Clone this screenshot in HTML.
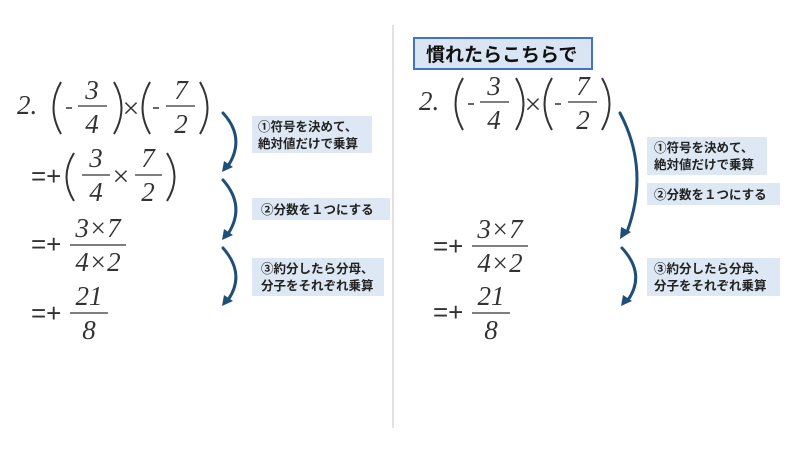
<!DOCTYPE html>
<html><head><meta charset="utf-8"><style>
body{margin:0;background:#fff;width:800px;height:450px;overflow:hidden}
svg{display:block}
.m{font-family:"Liberation Serif",serif;font-style:italic;font-size:27px;fill:#333}
.u{font-family:"Liberation Serif",serif;font-size:30px;fill:#333}
.e{font-family:"Liberation Sans","Noto Sans CJK JP",sans-serif;font-size:26px;fill:#333}
.j{font-family:"Liberation Sans","Noto Sans CJK JP",sans-serif;font-size:12.5px;font-weight:bold;fill:#222}
.p{fill:none;stroke:#333;stroke-width:2}
.l{stroke:#333;stroke-width:1.3}
.a{fill:none;stroke:#1f4e79;stroke-width:3;stroke-linecap:round}
.h{fill:#1f4e79}
</style></head><body>
<svg width="800" height="450" viewBox="0 0 800 450">
<line x1="393" y1="25" x2="393" y2="428" stroke="#d8d8d8" stroke-width="1.5"/>
<g>
<text class="m" x="17" y="114">2.</text>
<path class="p" d="M61 82 Q46 108 61 134"/>
<line x1="66" y1="108" x2="72" y2="108" stroke="#333" stroke-width="1.5"/>
<text class="m" x="92" y="99" text-anchor="middle">3</text><line class="l" x1="78" y1="106" x2="107" y2="106"/><text class="m" x="92" y="133" text-anchor="middle">4</text>
<path class="p" d="M114 82 Q129 108 114 134"/>
<text class="u" x="131" y="118" text-anchor="middle">×</text>
<path class="p" d="M150 82 Q135 108 150 134"/>
<line x1="153" y1="108" x2="159" y2="108" stroke="#333" stroke-width="1.5"/>
<text class="m" x="181" y="99" text-anchor="middle">7</text><line class="l" x1="166" y1="106" x2="195" y2="106"/><text class="m" x="181" y="133" text-anchor="middle">2</text>
<path class="p" d="M200 82 Q215 108 200 134"/>

<text class="e" x="31" y="185">=+</text>
<path class="p" d="M74 153 Q59 177 74 201"/>
<text class="m" x="96" y="167" text-anchor="middle">3</text><line class="l" x1="82" y1="175" x2="110" y2="175"/><text class="m" x="96" y="201" text-anchor="middle">4</text>
<text class="u" x="121" y="186" text-anchor="middle">×</text>
<text class="m" x="148" y="167" text-anchor="middle">7</text><line class="l" x1="135" y1="175" x2="162" y2="175"/><text class="m" x="148" y="201" text-anchor="middle">2</text>
<path class="p" d="M167 153 Q182 177 167 201"/>

<text class="e" x="31" y="253">=+</text>
<text class="m" x="98" y="237" text-anchor="middle">3×7</text><line class="l" x1="70" y1="245" x2="126" y2="245"/><text class="m" x="98" y="271" text-anchor="middle">4×2</text>
<text class="e" x="31" y="322">=+</text>
<text class="m" x="89" y="305" text-anchor="middle">21</text><line class="l" x1="70" y1="313" x2="108" y2="313"/><text class="m" x="89" y="339" text-anchor="middle">8</text>

<path class="a" d="M223 113 Q246 138 228 166"/><polygon class="h" points="222,172 224,161 233,167"/>
<path class="a" d="M223 180 Q246 206 228 234"/><polygon class="h" points="222,240 224,229 233,235"/>
<path class="a" d="M223 248 Q246 274 228 300"/><polygon class="h" points="222,306 224,295 233,301"/>

<rect x="252" y="116" width="120" height="37" fill="#dde8f4"/>
<text class="j" x="258" y="131">①符号を決めて、</text><text class="j" x="258" y="148">絶対値だけで乗算</text>
<rect x="252" y="198" width="138" height="22" fill="#dde8f4"/>
<text class="j" x="261" y="214">②分数を１つにする</text>
<rect x="252" y="258" width="132" height="38" fill="#dde8f4"/>
<text class="j" x="261" y="273">③約分したら分母、</text><text class="j" x="261" y="290">分子をそれぞれ乗算</text>
</g>
<rect x="414" y="38" width="178" height="31" fill="#dae5f3" stroke="#4472c4" stroke-width="2"/>
<text x="426" y="61" font-family="'Liberation Sans','Noto Sans CJK JP',sans-serif" font-size="19" font-weight="bold" fill="#111">慣れたらこちらで</text>
<g transform="translate(402,-4)">
<text class="m" x="17" y="114">2.</text>
<path class="p" d="M61 82 Q46 108 61 134"/>
<line x1="66" y1="108" x2="72" y2="108" stroke="#333" stroke-width="1.5"/>
<text class="m" x="92" y="99" text-anchor="middle">3</text><line class="l" x1="78" y1="106" x2="107" y2="106"/><text class="m" x="92" y="133" text-anchor="middle">4</text>
<path class="p" d="M114 82 Q129 108 114 134"/>
<text class="u" x="131" y="118" text-anchor="middle">×</text>
<path class="p" d="M150 82 Q135 108 150 134"/>
<line x1="153" y1="108" x2="159" y2="108" stroke="#333" stroke-width="1.5"/>
<text class="m" x="181" y="99" text-anchor="middle">7</text><line class="l" x1="166" y1="106" x2="195" y2="106"/><text class="m" x="181" y="133" text-anchor="middle">2</text>
<path class="p" d="M200 82 Q215 108 200 134"/>
</g>
<text class="e" x="433" y="255">=+</text>
<text class="m" x="500" y="238" text-anchor="middle">3×7</text><line class="l" x1="472" y1="246" x2="528" y2="246"/><text class="m" x="500" y="272" text-anchor="middle">4×2</text>
<text class="e" x="433" y="321">=+</text>
<text class="m" x="491" y="305" text-anchor="middle">21</text><line class="l" x1="472" y1="313" x2="510" y2="313"/><text class="m" x="491" y="339" text-anchor="middle">8</text>

<path class="a" d="M620 113 Q650 170 627 232"/><polygon class="h" points="620,239 621,227 631,232"/>
<path class="a" d="M622 248 Q646 274 628 300"/><polygon class="h" points="621,306 623,295 632,301"/>

<rect x="647" y="137" width="120" height="38" fill="#dde8f4"/>
<text class="j" x="654" y="152">①符号を決めて、</text><text class="j" x="654" y="169">絶対値だけで乗算</text>
<rect x="647" y="183" width="133" height="22" fill="#dde8f4"/>
<text class="j" x="654" y="199">②分数を１つにする</text>
<rect x="647" y="258" width="133" height="38" fill="#dde8f4"/>
<text class="j" x="654" y="273">③約分したら分母、</text><text class="j" x="654" y="290">分子をそれぞれ乗算</text>
</svg>
</body></html>
